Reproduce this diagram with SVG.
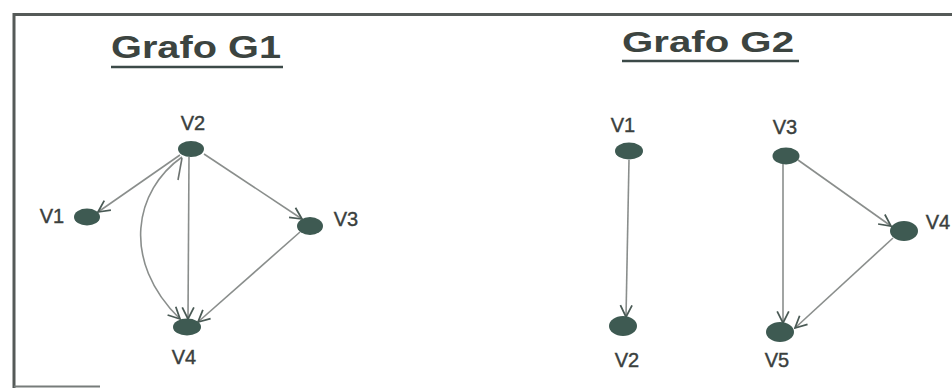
<svg xmlns="http://www.w3.org/2000/svg" width="952" height="388" viewBox="0 0 952 388">
  <style>
    .frame { stroke: #555a58; stroke-width: 3; fill: none; }
    .title { font-family: "Liberation Sans", Arial, sans-serif; font-weight: bold; fill: #3c4440; }
    .uline { stroke: #3c4a48; stroke-width: 2.5; }
    .lbl { font-family: "Liberation Sans", Arial, sans-serif; font-size: 20px; fill: #3a403d; stroke: #3a403d; stroke-width: 0.4; text-anchor: middle; }
    .node { fill: #3e5a52; }
    .edge { stroke: #8a8e8c; stroke-width: 1.6; fill: none; marker-end: url(#arrow); }
    .tick { stroke: #6c7270; stroke-width: 1.6; fill: none; }
  </style>
  <defs>
    <marker id="arrow" viewBox="0 0 12 12" refX="11" refY="6" markerWidth="14" markerHeight="14" markerUnits="userSpaceOnUse" orient="auto">
      <path d="M1,1 L11,6 L1,11" fill="none" stroke="#4a5a55" stroke-width="1.5"/>
    </marker>
  </defs>

  <rect width="952" height="388" fill="#ffffff"/>

  <!-- outer frame (top, left and a short stretch of the bottom) -->
  <path class="frame" d="M952,14.5 H14 V388"/>
  <path d="M14,386.5 H100" stroke="#777c7a" stroke-width="2" fill="none"/>

  <!-- titles -->
  <g id="title-g1">
    <text class="title" x="111" y="58" font-size="32" textLength="170" lengthAdjust="spacingAndGlyphs">Grafo G1</text>
    <line class="uline" x1="111" y1="67" x2="283" y2="67"/>
  </g>
  <g id="title-g2">
    <text class="title" x="622" y="52" font-size="30" textLength="172" lengthAdjust="spacingAndGlyphs">Grafo G2</text>
    <line class="uline" x1="622" y1="61" x2="799" y2="61"/>
  </g>

  <!-- connectors -->
  <g id="connectors">
    <!-- G1 -->
    <line class="edge" x1="180" y1="155" x2="98" y2="212"/>
    <line class="edge" x1="204" y1="154" x2="302" y2="219"/>
    <line class="edge" x1="189" y1="157" x2="188" y2="319"/>
    <path class="edge" d="M182,157 C135,190 120,260 180,319"/>
    <line class="tick" x1="182" y1="158" x2="178" y2="180"/>
    <line class="edge" x1="300" y1="232" x2="198" y2="322"/>
    <!-- G2 -->
    <line class="edge" x1="629" y1="160" x2="626" y2="317"/>
    <line class="edge" x1="783" y1="164" x2="783" y2="323"/>
    <line class="edge" x1="798" y1="160" x2="891" y2="226"/>
    <line class="edge" x1="893" y1="238" x2="795" y2="328"/>
  </g>

  <!-- Grafo G1 nodes -->
  <g id="g1-v1">
    <ellipse class="node" cx="87" cy="217" rx="13" ry="8.5"/>
    <text class="lbl" x="52" y="223">V1</text>
  </g>
  <g id="g1-v2">
    <ellipse class="node" cx="191" cy="149" rx="13" ry="8"/>
    <text class="lbl" x="193" y="130">V2</text>
  </g>
  <g id="g1-v3">
    <ellipse class="node" cx="310" cy="226" rx="13" ry="9"/>
    <text class="lbl" x="346" y="226">V3</text>
  </g>
  <g id="g1-v4">
    <ellipse class="node" cx="187" cy="327" rx="14" ry="8.5"/>
    <text class="lbl" x="184" y="364">V4</text>
  </g>

  <!-- Grafo G2 nodes -->
  <g id="g2-v1">
    <ellipse class="node" cx="629" cy="151" rx="14" ry="8.5"/>
    <text class="lbl" x="623" y="132">V1</text>
  </g>
  <g id="g2-v3">
    <ellipse class="node" cx="786" cy="156" rx="13.5" ry="8.5"/>
    <text class="lbl" x="785" y="134">V3</text>
  </g>
  <g id="g2-v4">
    <ellipse class="node" cx="904" cy="231" rx="14" ry="10"/>
    <text class="lbl" x="938" y="229">V4</text>
  </g>
  <g id="g2-v2">
    <ellipse class="node" cx="623" cy="326" rx="14" ry="10"/>
    <text class="lbl" x="627" y="367">V2</text>
  </g>
  <g id="g2-v5">
    <ellipse class="node" cx="780" cy="332" rx="14" ry="10"/>
    <text class="lbl" x="777" y="367">V5</text>
  </g>
</svg>
